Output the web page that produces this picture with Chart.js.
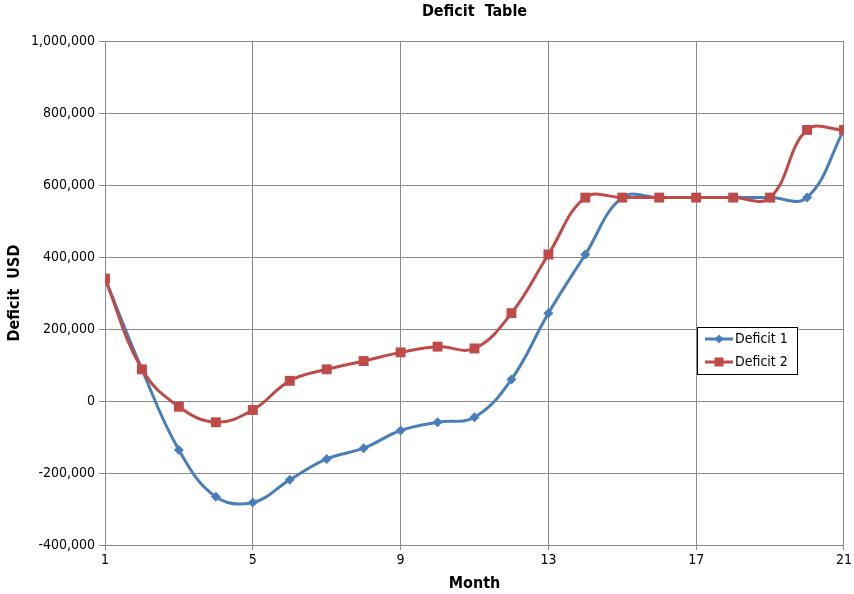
<!DOCTYPE html>
<html>
<head>
<meta charset="utf-8">
<script src="https://cdn.jsdelivr.net/npm/chart.js@4/dist/chart.umd.min.js"></script>
<style>
  html, body { margin: 0; padding: 0; background: #ffffff; }
  #wrap { width: 854px; height: 594px; }
</style>
</head>
<body>
<div id="wrap"><canvas id="chart" width="854" height="594"></canvas></div>
<script>
// Month numbers along the x axis
const months = [1, 2, 3, 4, 5, 6, 7, 8, 9, 10, 11, 12, 13, 14, 15, 16, 17, 18, 19, 20, 21];

// Deficit series, USD
const deficit1 = [340000, 88000, -136000, -266000, -282000, -219000, -161000, -131000, -82000, -59000,
                  -45000, 60000, 244000, 407000, 565000, 565000, 565000, 565000, 565000, 565000, 753000];
const deficit2 = [340000, 88000, -16000, -59000, -25000, 56000, 88000, 111000, 135000, 151000,
                  146000, 244000, 407000, 565000, 565000, 565000, 565000, 565000, 565000, 753000, 753000];

const seriesNames = ['Deficit 1', 'Deficit 2'];
const chartTitle = 'Deficit  Table';
const xTicks = [1, 5, 9, 13, 17, 21];
const yTicks = [-400000, -200000, 0, 200000, 400000, 600000, 800000, 1000000];

const FONT = '"Liberation Sans Narrow", "DejaVu Sans Condensed", "Liberation Sans", sans-serif';
const BLUE = '#4A7EBB';
const RED = '#BE4B48';
const GRID = '#8a8a8a';

const toPoints = vals => months.map((m, i) => ({ x: m, y: vals[i] }));

// Title centred over the plot area rather than the whole canvas
const plotTitle = {
  id: 'plotTitle',
  afterDraw(chart) {
    const ctx = chart.ctx;
    const area = chart.chartArea;
    ctx.save();
    ctx.fillStyle = '#000000';
    ctx.font = 'bold 16px ' + FONT;
    ctx.textAlign = 'center';
    ctx.textBaseline = 'middle';
    ctx.fillText(chartTitle, (area.left + area.right) / 2, 12);
    ctx.restore();
  }
};

// Boxed legend drawn inside the plot area, each entry a short line with its marker
const boxLegend = {
  id: 'boxLegend',
  afterDraw(chart) {
    const ctx = chart.ctx;
    const area = chart.chartArea;
    const left = area.left + 592, top = area.top + 286, w = 100, h = 47;
    ctx.save();
    ctx.fillStyle = '#ffffff';
    ctx.fillRect(left, top, w, h);
    ctx.strokeStyle = '#000000';
    ctx.lineWidth = 1;
    ctx.strokeRect(left + 0.5, top + 0.5, w, h);
    chart.data.datasets.forEach((ds, i) => {
      const cy = top + 12 + i * 23;
      ctx.strokeStyle = ds.borderColor;
      ctx.lineWidth = 3;
      ctx.beginPath();
      ctx.moveTo(left + 8, cy);
      ctx.lineTo(left + 36, cy);
      ctx.stroke();
      ctx.fillStyle = ds.borderColor;
      const cx = left + 22;
      if (ds.pointStyle === 'rectRot') {
        ctx.beginPath();
        ctx.moveTo(cx, cy - 4.5);
        ctx.lineTo(cx + 4.5, cy);
        ctx.lineTo(cx, cy + 4.5);
        ctx.lineTo(cx - 4.5, cy);
        ctx.closePath();
        ctx.fill();
      } else {
        ctx.fillRect(cx - 4.5, cy - 4.5, 9, 9);
      }
      ctx.fillStyle = '#000000';
      ctx.font = '14px ' + FONT;
      ctx.textBaseline = 'middle';
      ctx.textAlign = 'left';
      ctx.fillText(ds.label, left + 38, cy);
    });
    ctx.restore();
  }
};

new Chart(document.getElementById('chart'), {
  type: 'line',
  data: {
    datasets: [
      {
        label: seriesNames[0],
        data: toPoints(deficit1),
        borderColor: BLUE,
        backgroundColor: BLUE,
        borderWidth: 3,
        tension: 0.4,
        pointStyle: 'rectRot',
        pointRadius: 5,
        pointBorderWidth: 0,
        order: 2
      },
      {
        label: seriesNames[1],
        data: toPoints(deficit2),
        borderColor: RED,
        backgroundColor: RED,
        borderWidth: 3,
        tension: 0.4,
        pointStyle: 'rect',
        pointRadius: 7,
        pointBorderWidth: 0,
        order: 1
      }
    ]
  },
  options: {
    responsive: false,
    animation: false,
    layout: { padding: { left: 0, right: 9, top: 41, bottom: 0 } },
    plugins: {
      legend: { display: false },
      tooltip: { enabled: false },
      title: { display: false }
    },
    scales: {
      x: {
        type: 'linear',
        min: 1,
        max: 21,
        afterBuildTicks: s => { s.ticks = xTicks.map(v => ({ value: v })); },
        afterFit: s => { s.height = 49; },
        ticks: {
          color: '#000000',
          font: { family: FONT, size: 14 },
          padding: 2,
          maxRotation: 0,
          autoSkip: false
        },
        grid: { color: GRID, lineWidth: 1, tickLength: 5, drawTicks: true },
        border: { color: GRID, width: 1 },
        title: {
          display: true,
          text: 'Month',
          color: '#000000',
          font: { family: FONT, size: 16, weight: 'bold', lineHeight: 1.2 },
          padding: { top: 0, bottom: 1 }
        }
      },
      y: {
        min: -400000,
        max: 1000000,
        afterBuildTicks: s => { s.ticks = yTicks.map(v => ({ value: v })); },
        afterFit: s => { s.width = 105; },
        ticks: {
          color: '#000000',
          font: { family: FONT, size: 14 },
          padding: 4,
          callback: v => v.toLocaleString('en-US')
        },
        grid: { color: GRID, lineWidth: 1, tickLength: 6, drawTicks: true },
        border: { color: GRID, width: 1 },
        title: {
          display: true,
          text: 'Deficit  USD',
          color: '#000000',
          font: { family: FONT, size: 16, weight: 'bold', lineHeight: 1.2 },
          padding: { top: 5, bottom: 0 }
        }
      }
    }
  },
  plugins: [plotTitle, boxLegend]
});
</script>
</body>
</html>
